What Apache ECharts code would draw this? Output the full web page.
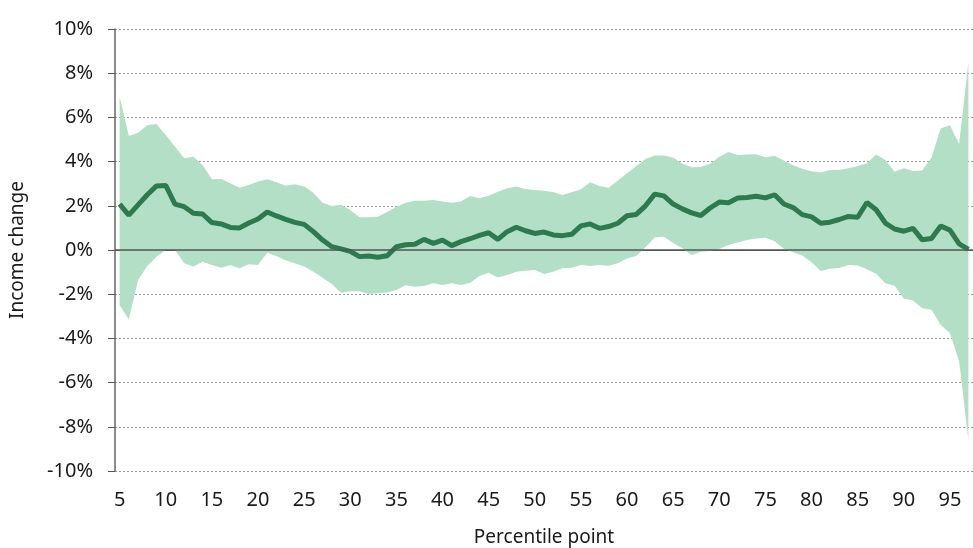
<!DOCTYPE html>
<html>
<head>
<meta charset="utf-8">
<script src="https://cdn.jsdelivr.net/npm/echarts@6/dist/echarts.min.js"></script>
<style>
  html, body { margin: 0; padding: 0; background: #fff; }
  #main { width: 973px; height: 548px; }
</style>
</head>
<body>
<div id="main"></div>
<script>
// percentile points 5..97
var percentiles = [];
for (var p = 5; p <= 97; p++) percentiles.push(String(p));

// mean income change (%)
var meanChange = [
  2.08, 1.58, 2.04, 2.5, 2.9, 2.92, 2.08, 1.96, 1.66, 1.63,
  1.24, 1.18, 1.02, 1.0, 1.22, 1.4, 1.72, 1.54, 1.39, 1.25,
  1.16, 0.83, 0.45, 0.15, 0.05, -0.06, -0.3, -0.27, -0.33, -0.26,
  0.15, 0.24, 0.26, 0.48, 0.3, 0.45, 0.2, 0.38, 0.51, 0.66,
  0.78, 0.48, 0.83, 1.03, 0.87, 0.75, 0.81, 0.68, 0.65, 0.71,
  1.09, 1.18, 0.98, 1.06, 1.21, 1.55, 1.61, 2.0, 2.53, 2.45,
  2.08, 1.86, 1.68, 1.56, 1.9, 2.17, 2.14, 2.35, 2.38, 2.43,
  2.36, 2.5, 2.08, 1.92, 1.6, 1.5, 1.21, 1.26, 1.38, 1.52,
  1.48, 2.15, 1.82, 1.22, 0.95, 0.85, 0.98, 0.46, 0.52, 1.09,
  0.9, 0.28, 0.03
];

// upper bound of the confidence band (%)
var upperBound = [
  6.94, 5.16, 5.31, 5.64, 5.7, 5.2, 4.68, 4.15, 4.22, 3.85,
  3.2, 3.21, 3.02, 2.82, 2.94, 3.1, 3.2, 3.06, 2.91, 2.97,
  2.87, 2.59, 2.14, 1.99, 2.05, 1.81, 1.48, 1.48, 1.51, 1.72,
  1.96, 2.14, 2.23, 2.23, 2.26, 2.19, 2.14, 2.2, 2.44, 2.34,
  2.46, 2.64, 2.79, 2.87, 2.76, 2.71, 2.68, 2.62, 2.49, 2.61,
  2.75, 3.06, 2.9, 2.82, 3.14, 3.47, 3.8, 4.12, 4.28, 4.28,
  4.18, 3.9, 3.74, 3.76, 3.9, 4.22, 4.44, 4.3, 4.32, 4.33,
  4.2, 4.27, 4.05, 3.83, 3.68, 3.56, 3.51, 3.62, 3.62, 3.7,
  3.8, 3.92, 4.32, 4.07, 3.54, 3.7, 3.57, 3.6, 4.18, 5.5,
  5.65, 4.8, 8.5
];

// lower bound of the confidence band (%)
var lowerBound = [
  -2.49, -3.14, -1.36, -0.72, -0.3, 0.0, 0.0, -0.6, -0.75, -0.53,
  -0.68, -0.8, -0.68, -0.83, -0.65, -0.68, -0.12, -0.27, -0.48, -0.6,
  -0.75, -0.98, -1.25, -1.54, -1.93, -1.87, -1.87, -1.99, -1.96, -1.92,
  -1.81, -1.6, -1.66, -1.63, -1.51, -1.58, -1.51, -1.58, -1.48, -1.18,
  -1.03, -1.24, -1.13, -0.98, -0.94, -0.9, -1.09, -0.98, -0.83, -0.8,
  -0.68, -0.72, -0.68, -0.71, -0.6, -0.38, -0.27, 0.12, 0.56, 0.6,
  0.32, 0.08, -0.23, -0.08, -0.04, 0.04, 0.23, 0.34, 0.45, 0.52,
  0.55, 0.4, 0.06, -0.1, -0.25, -0.55, -0.95, -0.85, -0.82, -0.68,
  -0.7, -0.87, -1.08, -1.5, -1.62, -2.21, -2.28, -2.64, -2.7, -3.39,
  -3.76, -5.05, -8.6
];

var bandWidth = upperBound.map(function (u, i) { return +(u - lowerBound[i]).toFixed(2); });

var FONT = '"Noto Sans", "Open Sans", sans-serif';

var chart = echarts.init(document.getElementById('main'));
chart.setOption({
  animation: false,
  grid: { left: 115, right: 0, top: 29, bottom: 77, outerBoundsMode: 'none', containLabel: false },
  xAxis: {
    type: 'category',
    data: percentiles,
    boundaryGap: true,
    name: 'Percentile point',
    nameLocation: 'middle',
    nameGap: 57,
    nameTextStyle: { fontFamily: FONT, fontSize: 19, color: '#1a1a1a' },
    axisLine: { lineStyle: { color: '#666', width: 1 } },
    axisTick: { interval: 4, length: 7, lineStyle: { color: '#555' } },
    axisLabel: { interval: 4, margin: 19, fontFamily: FONT, fontSize: 20, color: '#1a1a1a' },
    splitLine: { show: false }
  },
  yAxis: {
    type: 'value',
    min: -10,
    max: 10,
    interval: 2,
    name: 'Income change',
    nameLocation: 'middle',
    nameGap: 88,
    nameTextStyle: { fontFamily: FONT, fontSize: 19, color: '#1a1a1a' },
    axisLine: { show: true, lineStyle: { color: '#666', width: 1.5 } },
    axisTick: { show: true, length: 7, lineStyle: { color: '#555' } },
    axisLabel: { formatter: '{value}%', margin: 22, fontFamily: FONT, fontSize: 20, color: '#1a1a1a' },
    splitLine: { lineStyle: { color: '#999', type: [2, 2], width: 1 } }
  },
  series: [
    {
      name: 'lower',
      type: 'line',
      stack: 'band',
      stackStrategy: 'all',
      data: lowerBound,
      symbol: 'none',
      lineStyle: { opacity: 0 },
      silent: true,
      z: 1
    },
    {
      name: 'band',
      type: 'line',
      stack: 'band',
      stackStrategy: 'all',
      data: bandWidth,
      symbol: 'none',
      lineStyle: { opacity: 0 },
      areaStyle: { color: '#b3dfc7', opacity: 1 },
      silent: true,
      z: 1,
      markLine: {
        silent: true,
        symbol: 'none',
        label: { show: false },
        lineStyle: { color: '#555', type: 'solid', width: 1.5 },
        data: [{ yAxis: 0 }]
      }
    },
    {
      name: 'mean',
      type: 'line',
      data: meanChange,
      symbol: 'none',
      lineStyle: { color: '#2d7a4f', width: 5 },
      z: 3
    }
  ]
});
</script>
</body>
</html>
